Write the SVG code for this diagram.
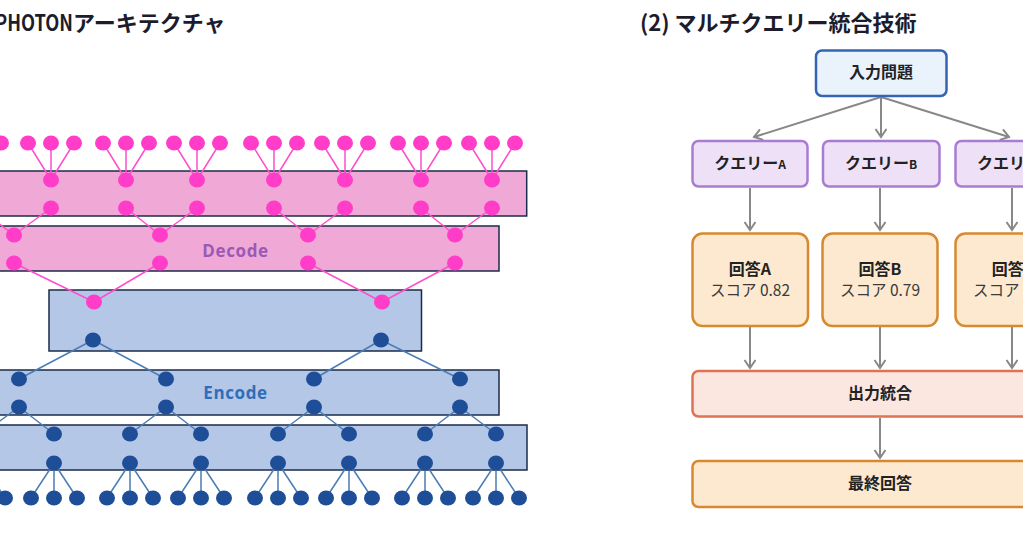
<svg xmlns="http://www.w3.org/2000/svg" width="1023" height="536" viewBox="0 0 1023 536">
<style>
.title{font-family:"Noto Sans CJK JP","Noto Sans",sans-serif;font-weight:bold;font-size:22px;fill:#1c1c2c}
.band-p{fill:#F0A8D6;stroke:#1B2B4B;stroke-width:1.5}
.band-b{fill:#B4C7E7;stroke:#1B2B4B;stroke-width:1.5}
.pn{fill:#FF3DC8}
.bn{fill:#1F4E99}
.pl{stroke:#FF4FCB;stroke-width:1.5;fill:none}
.bl{stroke:#4A7DB4;stroke-width:1.5;fill:none}
.blabel{font-family:"Open Sans","Liberation Sans",sans-serif;font-weight:bold;font-size:17px;letter-spacing:0.6px;text-anchor:middle}
.lbl{font-family:"Noto Sans CJK JP","Noto Sans",sans-serif;font-weight:bold;font-size:16px;fill:#222;text-anchor:middle}
.sub{font-family:"Noto Sans CJK JP","Noto Sans",sans-serif;font-size:15.5px;fill:#3a3a3a;text-anchor:middle}
.arr{stroke:#888;stroke-width:2;fill:none;marker-end:url(#ah)}
</style>
<defs>
<marker id="ah" markerUnits="userSpaceOnUse" markerWidth="12" markerHeight="14" refX="9" refY="6" orient="auto">
<path d="M1,0.5 L9,6 L1,11.5" fill="none" stroke="#888" stroke-width="2"/>
</marker>
</defs>
<rect x="0" y="0" width="1023" height="536" fill="#fff"/>

<text class="title" x="-5" y="31"><tspan textLength="78" lengthAdjust="spacingAndGlyphs">PHOTON</tspan>アーキテクチャ</text>
<text class="title" x="640" y="31">(2) マルチクエリー統合技術</text>

<g id="photon">
<g id="bands">
<rect id="band-dec1" class="band-p" x="-56" y="171" width="582.7" height="45"/>
<rect id="band-dec2" class="band-p" x="-28" y="226" width="527" height="45"/>
<rect id="band-mid" class="band-b" x="49" y="290" width="372.5" height="61"/>
<rect id="band-enc1" class="band-b" x="-28" y="370" width="527" height="45"/>
<rect id="band-enc2" class="band-b" x="-56" y="425" width="583" height="45"/>
<text class="blabel" x="235.5" y="257" fill="#9B59B6">Decode</text>
<text class="blabel" x="235.5" y="399" fill="#2F6EBA">Encode</text>
</g>
<g id="tree-connectors">
<path class="pl" d="M-45,143L-22,180M-22,143L-22,180M1,143L-22,180
M28,143L51,180M51,143L51,180M74,143L51,180
M103,143L126,180M126,143L126,180M149,143L126,180
M174,143L197,180M197,143L197,180M220,143L197,180
M251,143L274,180M274,143L274,180M297,143L274,180
M322,143L345,180M345,143L345,180M368,143L345,180
M398,143L421,180M421,143L421,180M444,143L421,180
M469,143L492,180M492,143L492,180M515,143L492,180
M-22,208L14,235M51,208L14,235
M126,208L160,235M197,208L160,235
M274,208L308,235M345,208L308,235
M421,208L455,235M492,208L455,235
M14,263L94,302M160,263L94,302
M308,263L382,302M455,263L382,302"/>
<path class="bl" d="M93,340L19,379M93,340L166,379M381,340L314,379M381,340L460,379
M19,407L-18,434M19,407L54,434
M166,407L130,434M166,407L201,434
M314,407L278,434M314,407L349,434
M460,407L425,434M460,407L496,434
M-18,463L-41,498M-18,463L-18,498M-18,463L5,498
M54,463L31,498M54,463L54,498M54,463L77,498
M130,463L107,498M130,463L130,498M130,463L153,498
M201,463L178,498M201,463L201,498M201,463L224,498
M278,463L255,498M278,463L278,498M278,463L301,498
M349,463L326,498M349,463L349,498M349,463L372,498
M425,463L402,498M425,463L425,498M425,463L448,498
M496,463L473,498M496,463L496,498M496,463L519,498"/>
</g>
<g id="decode-nodes">
<g id="pink-leaves">
<ellipse class="pn" cx="-45" cy="143" rx="8" ry="7.5"/><ellipse class="pn" cx="-22" cy="143" rx="8" ry="7.5"/><ellipse class="pn" cx="1" cy="143" rx="8" ry="7.5"/>
<ellipse class="pn" cx="28" cy="143" rx="8" ry="7.5"/><ellipse class="pn" cx="51" cy="143" rx="8" ry="7.5"/><ellipse class="pn" cx="74" cy="143" rx="8" ry="7.5"/>
<ellipse class="pn" cx="103" cy="143" rx="8" ry="7.5"/><ellipse class="pn" cx="126" cy="143" rx="8" ry="7.5"/><ellipse class="pn" cx="149" cy="143" rx="8" ry="7.5"/>
<ellipse class="pn" cx="174" cy="143" rx="8" ry="7.5"/><ellipse class="pn" cx="197" cy="143" rx="8" ry="7.5"/><ellipse class="pn" cx="220" cy="143" rx="8" ry="7.5"/>
<ellipse class="pn" cx="251" cy="143" rx="8" ry="7.5"/><ellipse class="pn" cx="274" cy="143" rx="8" ry="7.5"/><ellipse class="pn" cx="297" cy="143" rx="8" ry="7.5"/>
<ellipse class="pn" cx="322" cy="143" rx="8" ry="7.5"/><ellipse class="pn" cx="345" cy="143" rx="8" ry="7.5"/><ellipse class="pn" cx="368" cy="143" rx="8" ry="7.5"/>
<ellipse class="pn" cx="398" cy="143" rx="8" ry="7.5"/><ellipse class="pn" cx="421" cy="143" rx="8" ry="7.5"/><ellipse class="pn" cx="444" cy="143" rx="8" ry="7.5"/>
<ellipse class="pn" cx="469" cy="143" rx="8" ry="7.5"/><ellipse class="pn" cx="492" cy="143" rx="8" ry="7.5"/><ellipse class="pn" cx="515" cy="143" rx="8" ry="7.5"/>
</g>
<g id="pink-band1">
<ellipse class="pn" cx="-22" cy="180" rx="8" ry="7.5"/><ellipse class="pn" cx="51" cy="180" rx="8" ry="7.5"/><ellipse class="pn" cx="126" cy="180" rx="8" ry="7.5"/><ellipse class="pn" cx="197" cy="180" rx="8" ry="7.5"/>
<ellipse class="pn" cx="274" cy="180" rx="8" ry="7.5"/><ellipse class="pn" cx="345" cy="180" rx="8" ry="7.5"/><ellipse class="pn" cx="421" cy="180" rx="8" ry="7.5"/><ellipse class="pn" cx="492" cy="180" rx="8" ry="7.5"/>
<ellipse class="pn" cx="-22" cy="208" rx="8" ry="7.5"/><ellipse class="pn" cx="51" cy="208" rx="8" ry="7.5"/><ellipse class="pn" cx="126" cy="208" rx="8" ry="7.5"/><ellipse class="pn" cx="197" cy="208" rx="8" ry="7.5"/>
<ellipse class="pn" cx="274" cy="208" rx="8" ry="7.5"/><ellipse class="pn" cx="345" cy="208" rx="8" ry="7.5"/><ellipse class="pn" cx="421" cy="208" rx="8" ry="7.5"/><ellipse class="pn" cx="492" cy="208" rx="8" ry="7.5"/>
</g>
<g id="pink-band2">
<ellipse class="pn" cx="14" cy="235" rx="8" ry="7.5"/><ellipse class="pn" cx="160" cy="235" rx="8" ry="7.5"/><ellipse class="pn" cx="308" cy="235" rx="8" ry="7.5"/><ellipse class="pn" cx="455" cy="235" rx="8" ry="7.5"/>
<ellipse class="pn" cx="14" cy="263" rx="8" ry="7.5"/><ellipse class="pn" cx="160" cy="263" rx="8" ry="7.5"/><ellipse class="pn" cx="308" cy="263" rx="8" ry="7.5"/><ellipse class="pn" cx="455" cy="263" rx="8" ry="7.5"/>
</g>
</g>
<g id="middle-nodes">
<ellipse class="pn" cx="94" cy="302" rx="8" ry="7.5"/><ellipse class="pn" cx="382" cy="302" rx="8" ry="7.5"/>
<ellipse class="bn" cx="93" cy="340" rx="8" ry="7.5"/><ellipse class="bn" cx="381" cy="340" rx="8" ry="7.5"/>
</g>
<g id="encode-nodes">
<g id="blue-band1">
<ellipse class="bn" cx="19" cy="379" rx="8" ry="7.5"/><ellipse class="bn" cx="166" cy="379" rx="8" ry="7.5"/><ellipse class="bn" cx="314" cy="379" rx="8" ry="7.5"/><ellipse class="bn" cx="460" cy="379" rx="8" ry="7.5"/>
<ellipse class="bn" cx="19" cy="407" rx="8" ry="7.5"/><ellipse class="bn" cx="166" cy="407" rx="8" ry="7.5"/><ellipse class="bn" cx="314" cy="407" rx="8" ry="7.5"/><ellipse class="bn" cx="460" cy="407" rx="8" ry="7.5"/>
</g>
<g id="blue-band2">
<ellipse class="bn" cx="-18" cy="434" rx="8" ry="7.5"/><ellipse class="bn" cx="54" cy="434" rx="8" ry="7.5"/><ellipse class="bn" cx="130" cy="434" rx="8" ry="7.5"/><ellipse class="bn" cx="201" cy="434" rx="8" ry="7.5"/>
<ellipse class="bn" cx="278" cy="434" rx="8" ry="7.5"/><ellipse class="bn" cx="349" cy="434" rx="8" ry="7.5"/><ellipse class="bn" cx="425" cy="434" rx="8" ry="7.5"/><ellipse class="bn" cx="496" cy="434" rx="8" ry="7.5"/>
<ellipse class="bn" cx="-18" cy="463" rx="8" ry="7.5"/><ellipse class="bn" cx="54" cy="463" rx="8" ry="7.5"/><ellipse class="bn" cx="130" cy="463" rx="8" ry="7.5"/><ellipse class="bn" cx="201" cy="463" rx="8" ry="7.5"/>
<ellipse class="bn" cx="278" cy="463" rx="8" ry="7.5"/><ellipse class="bn" cx="349" cy="463" rx="8" ry="7.5"/><ellipse class="bn" cx="425" cy="463" rx="8" ry="7.5"/><ellipse class="bn" cx="496" cy="463" rx="8" ry="7.5"/>
</g>
<g id="blue-leaves">
<ellipse class="bn" cx="-41" cy="498" rx="8" ry="7.5"/><ellipse class="bn" cx="-18" cy="498" rx="8" ry="7.5"/><ellipse class="bn" cx="5" cy="498" rx="8" ry="7.5"/>
<ellipse class="bn" cx="31" cy="498" rx="8" ry="7.5"/><ellipse class="bn" cx="54" cy="498" rx="8" ry="7.5"/><ellipse class="bn" cx="77" cy="498" rx="8" ry="7.5"/>
<ellipse class="bn" cx="107" cy="498" rx="8" ry="7.5"/><ellipse class="bn" cx="130" cy="498" rx="8" ry="7.5"/><ellipse class="bn" cx="153" cy="498" rx="8" ry="7.5"/>
<ellipse class="bn" cx="178" cy="498" rx="8" ry="7.5"/><ellipse class="bn" cx="201" cy="498" rx="8" ry="7.5"/><ellipse class="bn" cx="224" cy="498" rx="8" ry="7.5"/>
<ellipse class="bn" cx="255" cy="498" rx="8" ry="7.5"/><ellipse class="bn" cx="278" cy="498" rx="8" ry="7.5"/><ellipse class="bn" cx="301" cy="498" rx="8" ry="7.5"/>
<ellipse class="bn" cx="326" cy="498" rx="8" ry="7.5"/><ellipse class="bn" cx="349" cy="498" rx="8" ry="7.5"/><ellipse class="bn" cx="372" cy="498" rx="8" ry="7.5"/>
<ellipse class="bn" cx="402" cy="498" rx="8" ry="7.5"/><ellipse class="bn" cx="425" cy="498" rx="8" ry="7.5"/><ellipse class="bn" cx="448" cy="498" rx="8" ry="7.5"/>
<ellipse class="bn" cx="473" cy="498" rx="8" ry="7.5"/><ellipse class="bn" cx="496" cy="498" rx="8" ry="7.5"/><ellipse class="bn" cx="519" cy="498" rx="8" ry="7.5"/>
</g>
</g>
</g>

<g id="connectors">
<line class="arr" x1="881" y1="97" x2="754" y2="137"/>
<line class="arr" x1="881" y1="97" x2="881" y2="137"/>
<line class="arr" x1="881" y1="97" x2="1009" y2="137"/>
<line class="arr" x1="750" y1="188" x2="750" y2="230"/>
<line class="arr" x1="880" y1="188" x2="880" y2="230"/>
<line class="arr" x1="1012" y1="188" x2="1012" y2="230"/>
<line class="arr" x1="750" y1="327" x2="750" y2="368"/>
<line class="arr" x1="880" y1="327" x2="880" y2="368"/>
<line class="arr" x1="1012" y1="327" x2="1012" y2="368"/>
<line class="arr" x1="880" y1="418" x2="880" y2="458"/>
</g>

<g id="input">
<rect x="816" y="50.5" width="130.5" height="45.5" rx="6" fill="#EAF2FC" stroke="#3465B5" stroke-width="2.5"/>
<text class="lbl" x="881" y="78">入力問題</text>
</g>
<g id="queryA">
<rect x="692.5" y="141" width="115" height="45.5" rx="6" fill="#EEE1F7" stroke="#A97CD2" stroke-width="2.5"/>
<text class="lbl" x="750" y="168.5">クエリー<tspan font-size="12">A</tspan></text>
</g>
<g id="queryB">
<rect x="823" y="141" width="116.5" height="45.5" rx="6" fill="#EEE1F7" stroke="#A97CD2" stroke-width="2.5"/>
<text class="lbl" x="881" y="168.5">クエリー<tspan font-size="12">B</tspan></text>
</g>
<g id="queryC">
<rect x="955.5" y="141" width="115" height="45.5" rx="6" fill="#EEE1F7" stroke="#A97CD2" stroke-width="2.5"/>
<text class="lbl" x="1013" y="168.5">クエリー<tspan font-size="12">C</tspan></text>
</g>
<g id="answerA">
<rect x="692.5" y="233.5" width="115.5" height="92.5" rx="10" fill="#FCE9D0" stroke="#D8892F" stroke-width="2.5"/>
<text class="lbl" x="750" y="275">回答A</text>
<text class="sub" x="750" y="296">スコア 0.82</text>
</g>
<g id="answerB">
<rect x="822.5" y="233.5" width="115" height="92.5" rx="10" fill="#FCE9D0" stroke="#D8892F" stroke-width="2.5"/>
<text class="lbl" x="880" y="275">回答B</text>
<text class="sub" x="880" y="296">スコア 0.79</text>
</g>
<g id="answerC">
<rect x="955.5" y="233.5" width="115" height="92.5" rx="10" fill="#FCE9D0" stroke="#D8892F" stroke-width="2.5"/>
<text class="lbl" x="1013" y="275">回答C</text>
<text class="sub" x="1013" y="296">スコア 0.85</text>
</g>
<g id="merge">
<rect x="692.5" y="371" width="376" height="45.5" rx="6" fill="#FCE7E0" stroke="#E07254" stroke-width="2.5"/>
<text class="lbl" x="880" y="399">出力統合</text>
</g>
<g id="final">
<rect x="692.5" y="461" width="376" height="46" rx="6" fill="#FCE9D0" stroke="#D8892F" stroke-width="2.5"/>
<text class="lbl" x="880" y="488.5">最終回答</text>
</g>
</svg>
